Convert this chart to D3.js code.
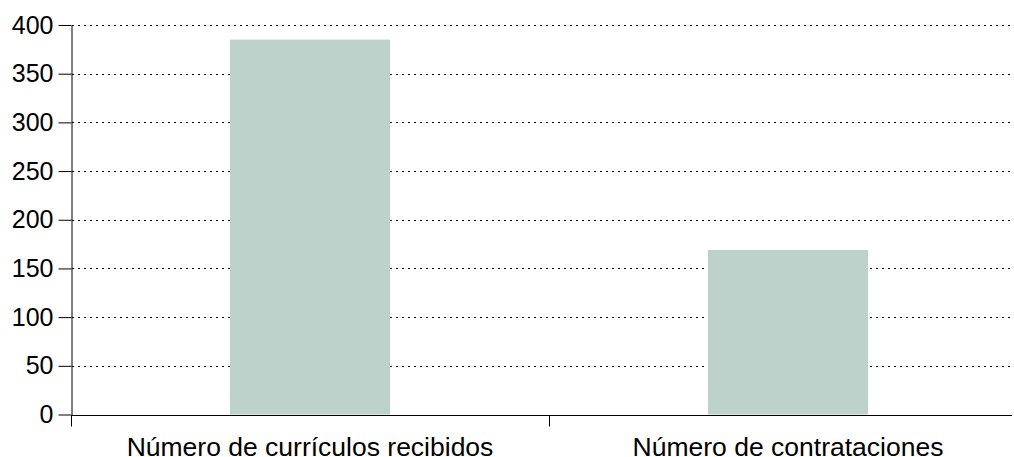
<!DOCTYPE html>
<html><head><meta charset="utf-8">
<script src="https://cdn.jsdelivr.net/npm/d3@7"></script>
<style>
html,body{margin:0;padding:0;background:#fff;}
svg{display:block;font-family:"Liberation Sans",Arial,Helvetica,sans-serif;}
</style></head>
<body>
<svg id="chart" width="1014" height="457"></svg>
<script>
const categories = ["Número de currículos recibidos", "Número de contrataciones"];
const values = [385, 169];
const yTicks = [0, 50, 100, 150, 200, 250, 300, 350, 400];

(function () {
const svg = d3.select("#chart");
const mLeft = 71, mRight = 1012, mTop = 25, mBottom = 414.5;

const y = d3.scaleLinear().domain([0, 400]).range([mBottom, mTop]);
const x = d3.scaleBand().domain(categories).range([mLeft, mLeft + 956]).paddingInner(0.665).paddingOuter(0.3325);

// gridlines
svg.append("g").selectAll("line").data(yTicks.filter(d => d > 0)).join("line")
  .attr("x1", mLeft + 1).attr("x2", mRight)
  .attr("y1", d => Math.round(y(d)) + 0.5).attr("y2", d => Math.round(y(d)) + 0.5)
  .attr("stroke", "#000").attr("stroke-width", 1).attr("stroke-dasharray", "2,4");

// bars
svg.append("g").selectAll("rect").data(categories).join("rect")
  .attr("x", d => x(d)).attr("width", x.bandwidth())
  .attr("y", (d, i) => y(values[i])).attr("height", (d, i) => y(0) - y(values[i]))
  .attr("fill", "#bcd2cb");

// y axis
const yAxis = d3.axisLeft(y).tickValues(yTicks).tickSize(13).tickPadding(5).tickSizeOuter(0);
const gy = svg.append("g").attr("transform", `translate(${mLeft + 0.5},0)`).call(yAxis);
gy.selectAll("text").attr("font-size", 25).attr("fill", "#000").attr("font-family", "Liberation Sans, Arial, sans-serif");
gy.selectAll("line").attr("stroke", "#000");
gy.select(".domain").attr("stroke", "#000");

// x axis
const gx = svg.append("g").attr("transform", `translate(0,${Math.round(mBottom) + 0.5})`);
gx.append("line").attr("x1", mLeft).attr("x2", mRight).attr("stroke", "#000");
const boundaries = [mLeft, mLeft + x.step()];
gx.selectAll("line.tk").data(boundaries).join("line").attr("class", "tk")
  .attr("x1", d => d + 0.5).attr("x2", d => d + 0.5).attr("y1", 0).attr("y2", 11).attr("stroke", "#000");
gx.selectAll("text").data(categories).join("text")
  .attr("x", d => x(d) + x.bandwidth() / 2).attr("y", 40)
  .attr("text-anchor", "middle").attr("font-size", 26.5).attr("fill", "#000")
  .text(d => d);
})();
</script>
</body></html>
